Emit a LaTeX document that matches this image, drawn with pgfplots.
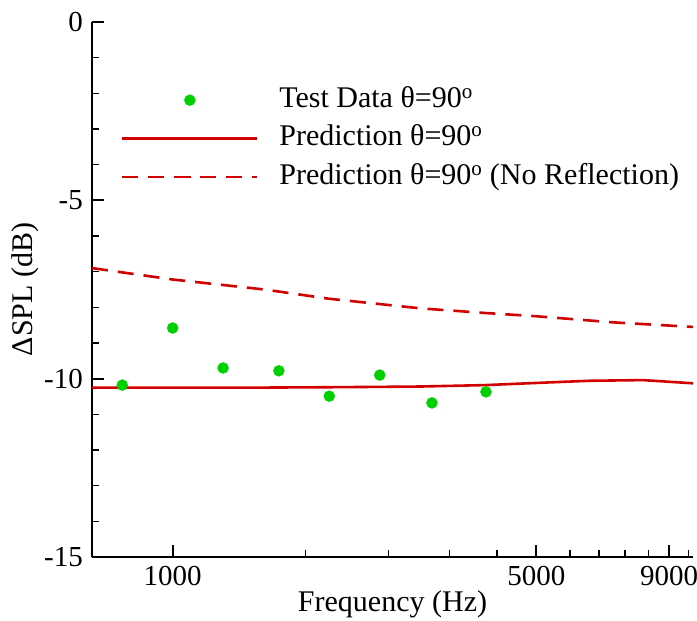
\documentclass[border=0pt]{standalone}
\usepackage{fontspec}
\setmainfont{Liberation Serif}
\usepackage{pgfplots}
\pgfplotsset{compat=1.18}
\definecolor{dotgreen}{RGB}{0,208,0}
\definecolor{linered}{RGB}{210,0,0}
\pgfplotsset{
  longline legend/.style={legend image code/.code={\draw[mark repeat=2,mark phase=2,##1] plot coordinates {(0pt,0pt) (67.5pt,0pt) (135pt,0pt)}; \path[draw=none,fill=none] (0pt,0pt) -- (155pt,0pt);}},
}
\begin{document}
\begin{tikzpicture}
\begin{axis}[
  at={(0,0)}, anchor=south west,
  scale only axis,
  width=601pt, height=535pt,
  xmode=log,
  xmin=700, xmax=10000,
  ymin=-15, ymax=0,
  axis x line*=bottom,
  axis y line*=left,
  axis line style={line width=2.5pt},
  xtick={1000,5000,9000},
  xticklabels={1000,5000,9000},
  minor xtick={1800,2600,3400,4200,5800,6600,7400,8200,9800},
  ytick={-15,-10,-5,0},
  yticklabels={-15,-10,-5,0},
  minor ytick={-14,-13,-12,-11,-9,-8,-7,-6,-4,-3,-2,-1},
  tick align=inside,
  major tick length=12pt,
  minor tick length=7pt,
  every major tick/.append style={line width=2pt, black},
  every minor tick/.append style={line width=1.3pt, black},
  tick label style={font=\fontsize{29}{34}\selectfont, inner sep=0pt},
  xticklabel style={anchor=north, yshift=-9pt},
  yticklabel style={anchor=east, xshift=-9pt},
  xlabel={Frequency (Hz)},
  ylabel={ΔSPL (dB)},
  xlabel style={font=\fontsize{30}{36}\selectfont, at={(axis description cs:0.5,0)}, anchor=base, yshift=-55pt, inner sep=0pt},
  ylabel style={font=\fontsize{30}{36}\selectfont, at={(axis description cs:0,0.5)}, anchor=center, yshift=67pt, inner sep=0pt},
  legend style={draw=none, fill=none, at={(axis description cs:0.048,0.886)}, anchor=north west,
    font=\fontsize{30}{36}\selectfont, row sep=4.5pt, inner sep=0pt,
    nodes={inner sep=2pt, text height=22pt, text depth=8pt},
    cells={anchor=west}},
  longline legend,
  clip=false,
]
\addplot[only marks, mark=*, mark size=5.5pt, color=dotgreen] coordinates {
(800,-10.18)(1000,-8.58)(1250,-9.70)(1600,-9.78)(2000,-10.49)(2500,-9.90)(3150,-10.68)(4000,-10.37)};
\addlegendentry{Test Data θ=90\textsuperscript{o}}
\addplot[line width=2.6pt, color=linered] coordinates {
(700,-10.25)(1000,-10.25)(1500,-10.25)(2000,-10.24)(2500,-10.23)(3000,-10.22)(4000,-10.18)(5000,-10.12)(6300,-10.06)(8000,-10.04)(10000,-10.13)};
\addlegendentry{Prediction θ=90\textsuperscript{o}}
\addplot[line width=2.6pt, color=linered, dash pattern=on 16pt off 10pt] coordinates {
(700,-6.90)(1000,-7.22)(1500,-7.50)(2000,-7.76)(3000,-8.03)(4000,-8.16)(5000,-8.25)(7000,-8.42)(10000,-8.55)};
\addlegendentry{Prediction θ=90\textsuperscript{o} (No Reflection)}
\end{axis}
\pgfresetboundingbox
\path[use as bounding box] (-92pt,-64pt) rectangle (605pt,557pt);
\end{tikzpicture}
\end{document}
